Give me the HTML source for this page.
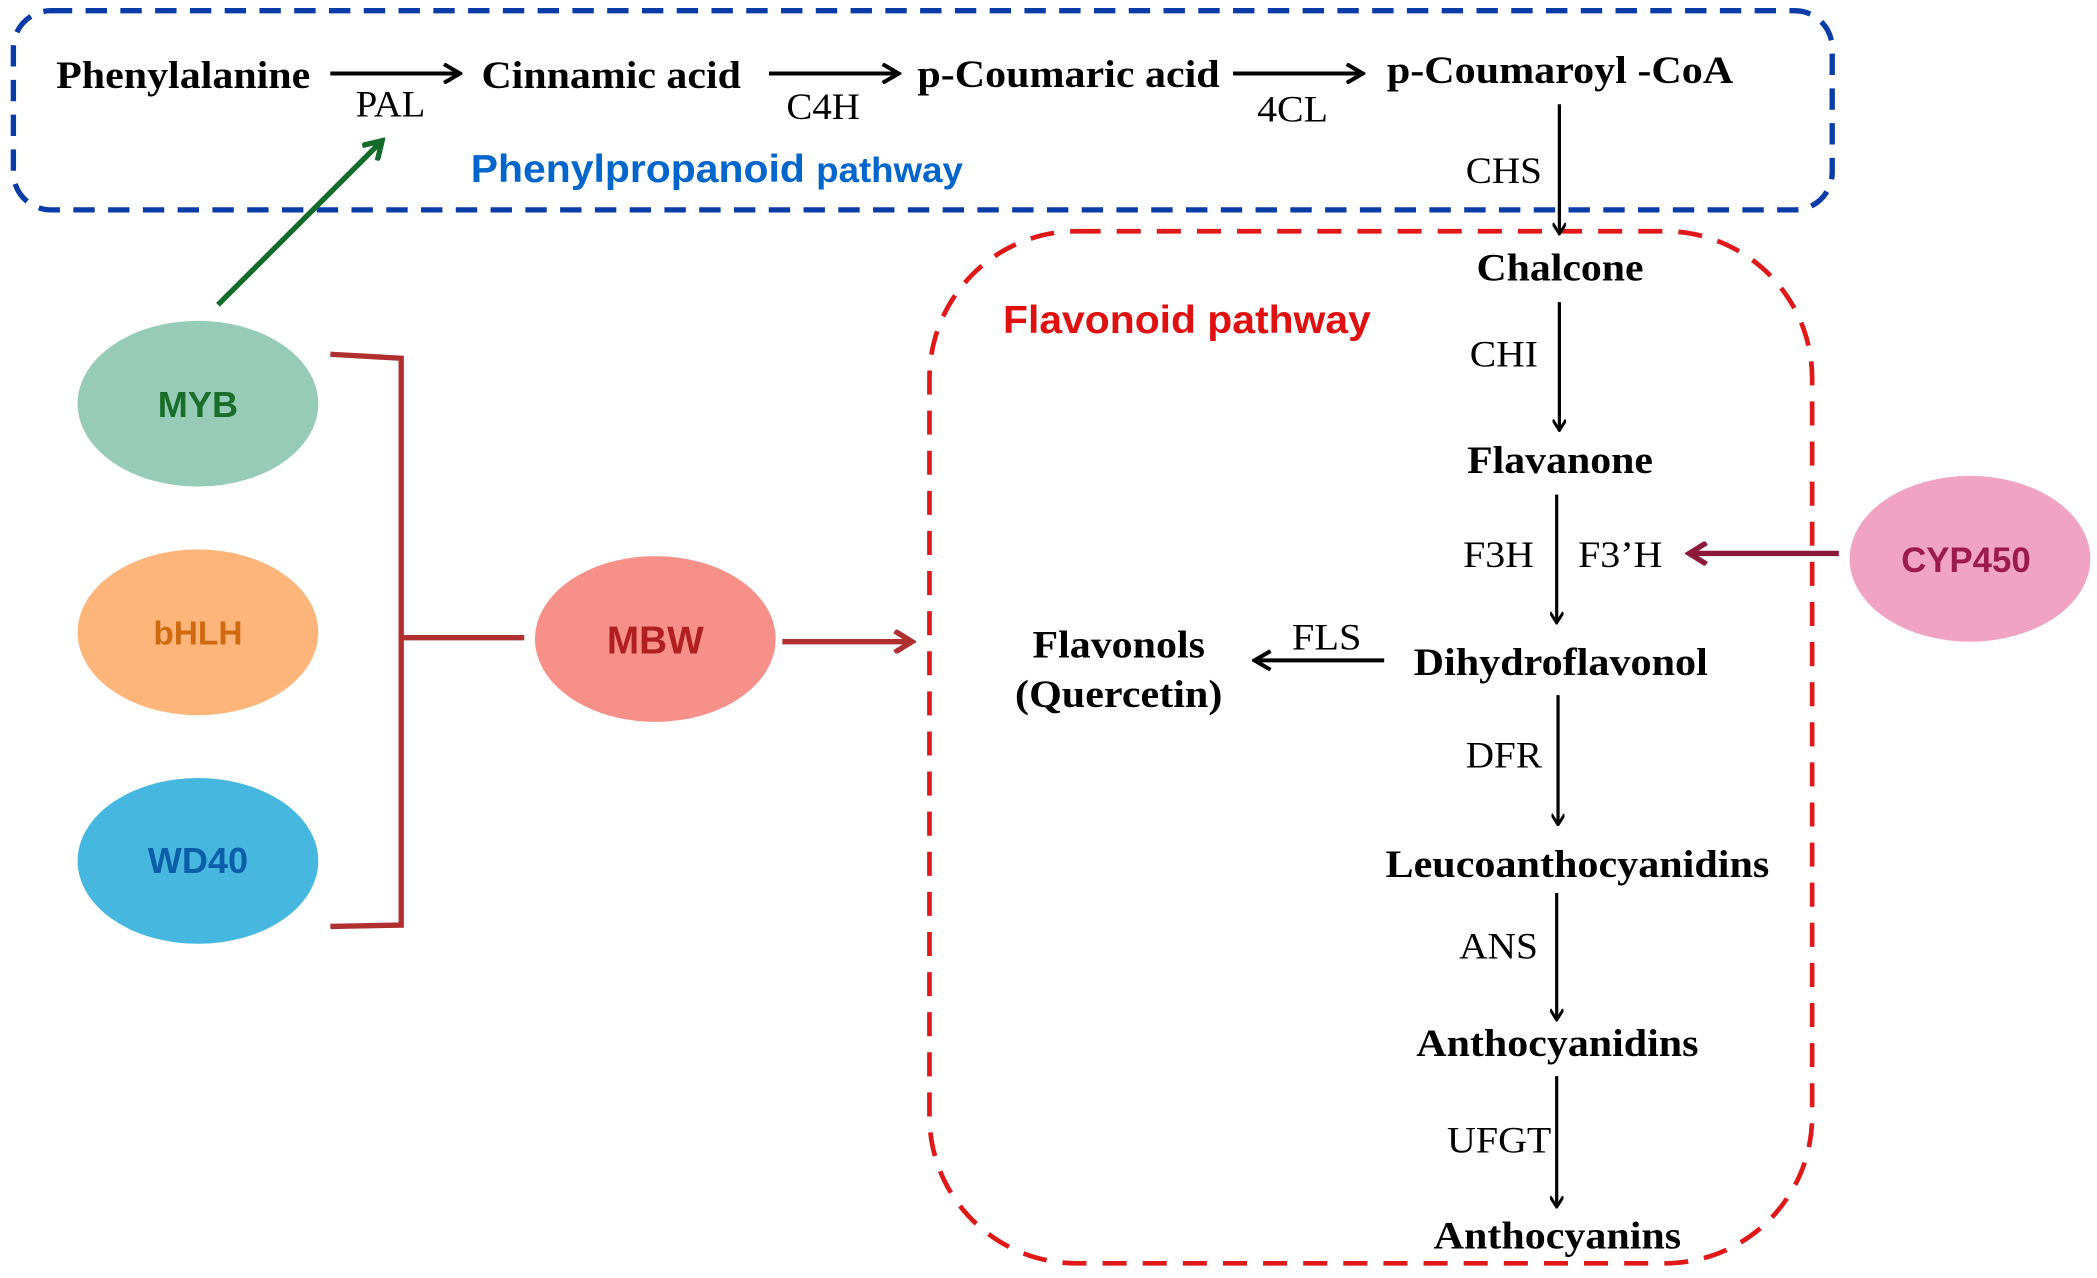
<!DOCTYPE html>
<html><head><meta charset="utf-8"><style>html,body{margin:0;padding:0;background:#fff}svg{display:block}</style></head>
<body>
<svg width="2097" height="1278" viewBox="0 0 1568 956" preserveAspectRatio="none" xmlns="http://www.w3.org/2000/svg">
<defs>
<marker id="ak" markerWidth="10" markerHeight="10" refX="8" refY="5" orient="auto" markerUnits="userSpaceOnUse"><path d="M1,0 L9,5 L1,10" fill="none" stroke="#000" stroke-width="2.2"/></marker>
<marker id="ab" markerWidth="16" markerHeight="16" refX="13" refY="8" orient="auto" markerUnits="userSpaceOnUse"><path d="M2,1 L14,8 L2,15" fill="none" stroke="#000" stroke-width="3"/></marker>
<marker id="ag" markerWidth="18" markerHeight="18" refX="14" refY="9" orient="auto" markerUnits="userSpaceOnUse"><path d="M2,1 L15,9 L2,17" fill="none" stroke="#136b2a" stroke-width="4"/></marker>
<marker id="ar" markerWidth="18" markerHeight="18" refX="14" refY="9" orient="auto" markerUnits="userSpaceOnUse"><path d="M2,1 L15,9 L2,17" fill="none" stroke="#b03030" stroke-width="4"/></marker>
<marker id="ap" markerWidth="18" markerHeight="18" refX="14" refY="9" orient="auto" markerUnits="userSpaceOnUse"><path d="M2,1 L15,9 L2,17" fill="none" stroke="#8b1a3a" stroke-width="4"/></marker>
</defs>
<rect x="10" y="8" width="1360" height="149" rx="28" fill="none" stroke="#0a3ca8" stroke-width="4" stroke-dasharray="16,10"/>
<rect x="695" y="173" width="660" height="772" rx="110" fill="none" stroke="#e01818" stroke-width="3.5" stroke-dasharray="18,12"/>
<g font-family="Liberation Serif, serif" font-size="29" fill="#000" lengthAdjust="spacingAndGlyphs">
<g font-weight="bold">
<text x="42" y="66" textLength="190" lengthAdjust="spacingAndGlyphs">Phenylalanine</text>
<text x="360" y="66" textLength="194" lengthAdjust="spacingAndGlyphs">Cinnamic acid</text>
<text x="686" y="65" textLength="226" lengthAdjust="spacingAndGlyphs">p-Coumaric acid</text>
<text x="1037" y="62" textLength="259" lengthAdjust="spacingAndGlyphs">p-Coumaroyl -CoA</text>
<text x="1104" y="210" textLength="125" lengthAdjust="spacingAndGlyphs">Chalcone</text>
<text x="1097" y="354" textLength="139" lengthAdjust="spacingAndGlyphs">Flavanone</text>
<text x="1057" y="505" textLength="220" lengthAdjust="spacingAndGlyphs">Dihydroflavonol</text>
<text x="772" y="492" textLength="129" lengthAdjust="spacingAndGlyphs">Flavonols</text>
<text x="759" y="529" textLength="155" lengthAdjust="spacingAndGlyphs">(Quercetin)</text>
<text x="1036" y="656" textLength="287" lengthAdjust="spacingAndGlyphs">Leucoanthocyanidins</text>
<text x="1059" y="790" textLength="211" lengthAdjust="spacingAndGlyphs">Anthocyanidins</text>
<text x="1072" y="934" textLength="185" lengthAdjust="spacingAndGlyphs">Anthocyanins</text>
</g>
<g font-size="28">
<text x="266" y="87" textLength="52" lengthAdjust="spacingAndGlyphs">PAL</text>
<text x="588" y="89" textLength="55" lengthAdjust="spacingAndGlyphs">C4H</text>
<text x="940" y="91" textLength="53" lengthAdjust="spacingAndGlyphs">4CL</text>
<text x="1096" y="137" textLength="57" lengthAdjust="spacingAndGlyphs">CHS</text>
<text x="1099" y="274" textLength="51" lengthAdjust="spacingAndGlyphs">CHI</text>
<text x="1094" y="424" textLength="53" lengthAdjust="spacingAndGlyphs">F3H</text>
<text x="1180" y="424" textLength="63" lengthAdjust="spacingAndGlyphs">F3’H</text>
<text x="966" y="486" textLength="52" lengthAdjust="spacingAndGlyphs">FLS</text>
<text x="1096" y="574" textLength="57" lengthAdjust="spacingAndGlyphs">DFR</text>
<text x="1091" y="717" textLength="59" lengthAdjust="spacingAndGlyphs">ANS</text>
<text x="1082" y="862" textLength="78" lengthAdjust="spacingAndGlyphs">UFGT</text>
</g>
</g>
<g font-family="Liberation Sans, sans-serif" font-weight="bold">
<text x="352" y="136" font-size="29" fill="#0066cc" textLength="368" lengthAdjust="spacingAndGlyphs">Phenylpropanoid <tspan font-size="26">pathway</tspan></text>
<text x="750" y="249" font-size="29" fill="#e01010" textLength="275" lengthAdjust="spacingAndGlyphs">Flavonoid pathway</text>
</g>
<g stroke="#000" fill="none">
<line x1="247" y1="55" x2="343" y2="55" stroke-width="3" marker-end="url(#ab)"/>
<line x1="575" y1="55" x2="671" y2="55" stroke-width="3" marker-end="url(#ab)"/>
<line x1="922" y1="55" x2="1018" y2="55" stroke-width="3" marker-end="url(#ab)"/>
<line x1="1035" y1="494" x2="939" y2="494" stroke-width="3" marker-end="url(#ab)"/>
<g stroke-width="2.4">
<line x1="1166" y1="78" x2="1166" y2="174" marker-end="url(#ak)"/>
<line x1="1166" y1="226" x2="1166" y2="321" marker-end="url(#ak)"/>
<line x1="1164" y1="370" x2="1164" y2="465" marker-end="url(#ak)"/>
<line x1="1165" y1="520" x2="1165" y2="616" marker-end="url(#ak)"/>
<line x1="1164" y1="668" x2="1164" y2="762" marker-end="url(#ak)"/>
<line x1="1164" y1="805" x2="1164" y2="902" marker-end="url(#ak)"/>
</g>
</g>
<line x1="163" y1="228" x2="285" y2="106" stroke="#136b2a" stroke-width="4" marker-end="url(#ag)"/>
<path d="M247,265 L300,268 L300,692 L247,693 M300,477 L392,477" fill="none" stroke="#b03030" stroke-width="4"/>
<line x1="585" y1="480" x2="681" y2="480" stroke="#b03030" stroke-width="4" marker-end="url(#ar)"/>
<line x1="1375" y1="414" x2="1264" y2="414" stroke="#8b1a3a" stroke-width="4" marker-end="url(#ap)"/>
<g font-family="Liberation Sans, sans-serif" font-weight="bold" font-size="27" text-anchor="middle">
<ellipse cx="148" cy="302" rx="90" ry="62" fill="#95cbb7"/><text x="148" y="312" fill="#1a6e2a">MYB</text>
<ellipse cx="148" cy="473" rx="90" ry="62" fill="#fdb57a"/><text x="148" y="482" fill="#d06a10" font-size="25">bHLH</text>
<ellipse cx="148" cy="644" rx="90" ry="62" fill="#46b8e0"/><text x="148" y="653" fill="#0a5fa8">WD40</text>
<ellipse cx="490" cy="478" rx="90" ry="62" fill="#f79088"/><text x="490" y="489" fill="#b02020" font-size="29">MBW</text>
<ellipse cx="1473" cy="418" rx="90" ry="62" fill="#f0a3c2"/><text x="1470" y="428" fill="#9b1b4a" font-size="26">CYP450</text>
</g>
</svg>
</body></html>
